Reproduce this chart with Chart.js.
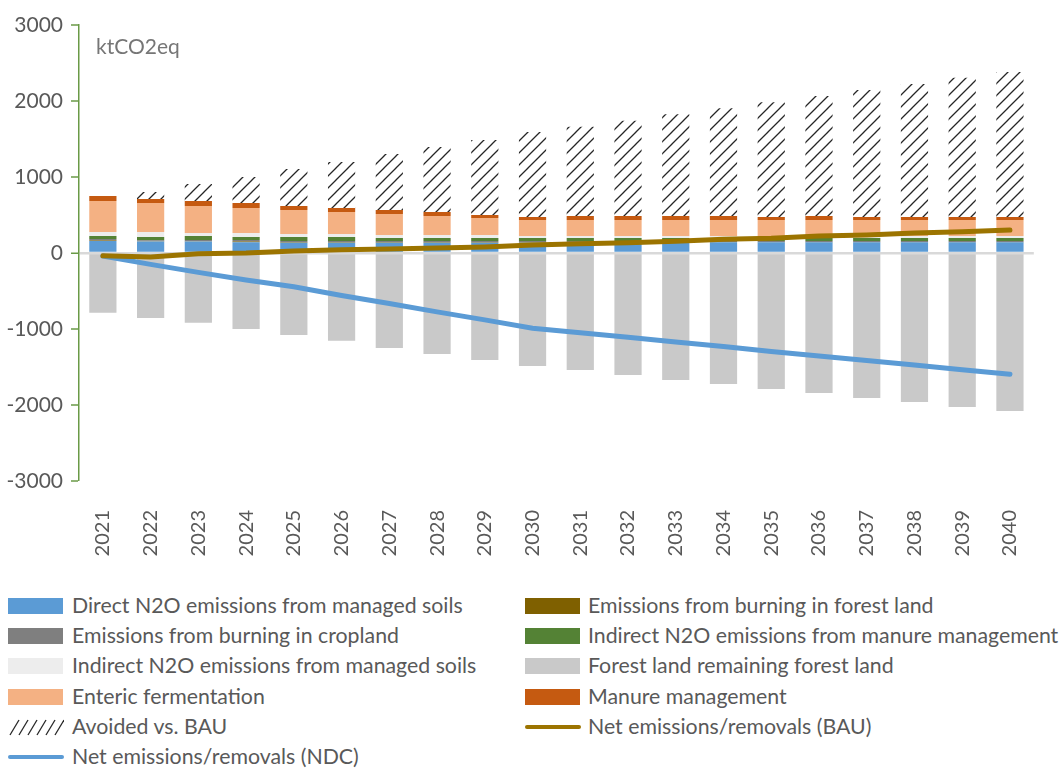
<!DOCTYPE html>
<html>
<head>
<meta charset="utf-8">
<script src="https://cdn.jsdelivr.net/npm/chart.js@4.4.1/dist/chart.umd.min.js"></script>
<style>
  html, body { margin: 0; padding: 0; background: #fff; }
  #wrap { position: relative; width: 1063px; height: 769px; overflow: hidden; font-family: Lato, "Liberation Sans", sans-serif; color: #595959; }
  #c { position: absolute; left: 0; top: 0; }
  #unit { position: absolute; left: 96px; top: 33px; font-size: 21px; color: #767676; }
  .leg { position: absolute; font-size: 21.3px; line-height: 24px; white-space: nowrap; }
  .sw { position: absolute; }
</style>
</head>
<body>
<div id="wrap">
  <canvas id="c" width="1063" height="590"></canvas>
  <div id="unit">ktCO2eq</div>
  <div id="legend"></div>
</div>
<script>
const years = ["2021","2022","2023","2024","2025","2026","2027","2028","2029","2030","2031","2032","2033","2034","2035","2036","2037","2038","2039","2040"];
const yTicks = [-3000, -2000, -1000, 0, 1000, 2000, 3000];

const directN2O      = [158,150,150,140,135,135,135,135,135,135,140,140,140,140,140,140,140,140,140,140];
const burnForest     = [8,6,6,12,8,8,8,8,8,8,6,6,6,6,6,6,6,6,6,6];
const burnCropland   = [18,12,15,19,15,15,15,15,15,15,12,12,12,12,12,12,12,12,12,12];
const indirectManure = [40,43,53,40,53,53,39,39,40,39,39,39,39,39,39,39,39,39,39,39];
const indirectSoils  = [53,65,39,52,39,39,40,40,40,27,27,27,27,27,27,27,27,27,27,27];
const forestLand     = [-786,-855,-917,-1000,-1079,-1154,-1250,-1329,-1408,-1487,-1540,-1606,-1671,-1724,-1790,-1842,-1908,-1961,-2027,-2080];
const enteric        = [408,382,355,329,316,290,276,250,224,210,210,210,210,210,210,210,210,210,210,210];
const manure         = [65,52,66,66,52,52,53,53,39,40,53,53,53,53,40,53,40,40,40,40];
const avoided        = [0,93,224,342,487,605,737,855,987,1118,1175,1254,1338,1417,1509,1579,1671,1750,1833,1908];
const netBAU         = [-36,-52,-9,0,26,43,53,66,79,105,122,135,154,180,193,224,237,263,280,302];
const netNDC         = [-40,-150,-255,-355,-445,-560,-665,-775,-880,-990,-1050,-1110,-1170,-1230,-1295,-1355,-1415,-1475,-1535,-1595];

function hatch(size, lw) {
  const p = document.createElement('canvas');
  p.width = size; p.height = size;
  const g = p.getContext('2d');
  g.fillStyle = '#ffffff'; g.fillRect(0, 0, size, size);
  g.strokeStyle = '#262626'; g.lineWidth = lw;
  g.beginPath();
  g.moveTo(-1, size + 1); g.lineTo(size + 1, -1);
  g.moveTo(-1, 1); g.lineTo(1, -1);
  g.moveTo(size - 1, size + 1); g.lineTo(size + 1, size - 1);
  g.stroke();
  return document.getElementById('c').getContext('2d').createPattern(p, 'repeat');
}
const hatchPattern = hatch(12, 1.3);

const series = [
  {label: 'Direct N2O emissions from managed soils', data: directN2O, color: '#5b9bd5'},
  {label: 'Emissions from burning in forest land', data: burnForest, color: '#7f6000'},
  {label: 'Emissions from burning in cropland', data: burnCropland, color: '#7f7f7f'},
  {label: 'Indirect N2O emissions from manure management', data: indirectManure, color: '#548235'},
  {label: 'Indirect N2O emissions from managed soils', data: indirectSoils, color: '#ededed'},
  {label: 'Forest land remaining forest land', data: forestLand, color: '#c9c9c9'},
  {label: 'Enteric fermentation', data: enteric, color: '#f4b183'},
  {label: 'Manure management', data: manure, color: '#c55a11'},
  {label: 'Avoided vs. BAU', data: avoided, color: hatchPattern}
];

const datasets = series.map(s => ({
  type: 'bar', label: s.label, data: s.data, backgroundColor: s.color,
  borderWidth: 0, stack: 'bars', order: 2,
  categoryPercentage: 1.0, barPercentage: 0.57
}));
datasets.push({type: 'line', label: 'Net emissions/removals (BAU)', data: netBAU, borderColor: '#9c7400',
  borderWidth: 5, pointRadius: 0, tension: 0, stack: 'bau', order: 0, borderCapStyle: 'round', fill: false});
datasets.push({type: 'line', label: 'Net emissions/removals (NDC)', data: netNDC, borderColor: '#5b9bd5',
  borderWidth: 5, pointRadius: 0, tension: 0, stack: 'ndc', order: 1, borderCapStyle: 'round', fill: false});

new Chart(document.getElementById('c'), {
  type: 'bar',
  data: { labels: years, datasets: datasets },
  options: {
    responsive: false, animation: false, devicePixelRatio: 1,
    layout: { padding: { top: 25, right: 2, left: 0, bottom: 0 } },
    plugins: { legend: { display: false }, tooltip: { enabled: false } },
    scales: {
      x: {
        stacked: true,
        grid: { display: false, drawTicks: false },
        border: { display: false },
        ticks: { minRotation: 90, maxRotation: 90, padding: 29, color: '#595959', font: { family: 'Lato', size: 20 } },
        afterFit: s => { s.height = 109; }
      },
      y: {
        stacked: true, min: -3000, max: 3000,
        afterBuildTicks: s => { s.ticks = yTicks.map(v => ({value: v})); },
        afterFit: s => { s.width = 79; },
        border: { display: true, color: '#6a9a47', width: 1.5 },
        grid: {
          drawOnChartArea: true, drawTicks: true, tickLength: 8,
          color: ctx => (ctx.tick && ctx.tick.value === 0) ? '#d9d9d9' : 'rgba(0,0,0,0)',
          lineWidth: ctx => (ctx.tick && ctx.tick.value === 0) ? 2.5 : 0,
          tickColor: '#6a9a47', tickWidth: 1.5
        },
        ticks: { padding: 8, color: '#595959', font: { family: 'Lato', size: 21 }, callback: v => String(v) }
      }
    }
  }
});

// HTML legend (two columns, row-wise like the source)
const legendItems = [
  {t: 'Direct N2O emissions from managed soils', k: 'box', c: '#5b9bd5'},
  {t: 'Emissions from burning in forest land', k: 'box', c: '#7f6000'},
  {t: 'Emissions from burning in cropland', k: 'box', c: '#7f7f7f'},
  {t: 'Indirect N2O emissions from manure management', k: 'box', c: '#548235'},
  {t: 'Indirect N2O emissions from managed soils', k: 'box', c: '#ededed'},
  {t: 'Forest land remaining forest land', k: 'box', c: '#c9c9c9'},
  {t: 'Enteric fermentation', k: 'box', c: '#f4b183'},
  {t: 'Manure management', k: 'box', c: '#c55a11'},
  {t: 'Avoided vs. BAU', k: 'hatch'},
  {t: 'Net emissions/removals (BAU)', k: 'line', c: '#9c7400'},
  {t: 'Net emissions/removals (NDC)', k: 'line', c: '#5b9bd5'}
];
const wrap = document.getElementById('wrap');
legendItems.forEach((it, i) => {
  const col = i % 2, row = Math.floor(i / 2);
  const cy = 606 + row * 30.2;
  const sx = col === 0 ? 8 : 525;
  const tx = col === 0 ? 72 : 588;
  let sw;
  if (it.k === 'box') {
    sw = document.createElement('div'); sw.className = 'sw';
    Object.assign(sw.style, {left: sx + 'px', top: (cy - 8) + 'px', width: '55px', height: '16px', background: it.c});
  } else if (it.k === 'line') {
    sw = document.createElement('div'); sw.className = 'sw';
    Object.assign(sw.style, {left: sx + 'px', top: (cy - 2) + 'px', width: '56px', height: '4px', background: it.c, borderRadius: '2px'});
  } else {
    sw = document.createElement('canvas'); sw.className = 'sw'; sw.width = 56; sw.height = 18;
    Object.assign(sw.style, {left: sx + 'px', top: (cy - 9) + 'px'});
    const g = sw.getContext('2d'); g.strokeStyle = '#262626'; g.lineWidth = 1.3;
    for (let k = 0; k < 6; k++) { const x0 = 2 + k * 9; g.beginPath(); g.moveTo(x0, 17); g.lineTo(x0 + 9, 2); g.stroke(); }
  }
  wrap.appendChild(sw);
  const tdiv = document.createElement('div'); tdiv.className = 'leg';
  tdiv.textContent = it.t;
  Object.assign(tdiv.style, {left: tx + 'px', top: (cy - 13) + 'px'});
  wrap.appendChild(tdiv);
});
</script>
</body>
</html>
